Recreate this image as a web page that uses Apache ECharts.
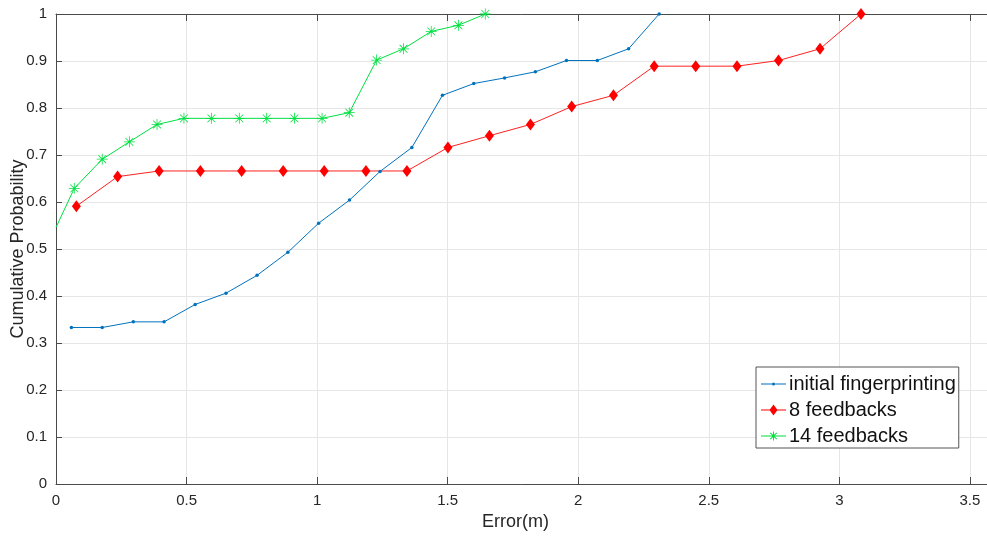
<!DOCTYPE html>
<html>
<head>
<meta charset="utf-8">
<script src="https://cdn.jsdelivr.net/npm/echarts@6/dist/echarts.min.js"></script>
<style>
  html, body { margin: 0; padding: 0; background: #fff; }
  #chart { width: 987px; height: 536px; }
</style>
</head>
<body>
<div id="chart"></div>
<script>
// Localisation error CDF: initial fingerprint map vs. maps refined by feedbacks
const initialX = [0.059, 0.177, 0.296, 0.414, 0.533, 0.651, 0.770, 0.888, 1.006, 1.124, 1.241, 1.363, 1.480, 1.600, 1.718, 1.836, 1.955, 2.073, 2.193, 2.310];
const initialY = [0.333, 0.333, 0.345, 0.345, 0.382, 0.406, 0.444, 0.493, 0.555, 0.604, 0.665, 0.716, 0.827, 0.852, 0.864, 0.877, 0.901, 0.901, 0.926, 1.000];

const fb8X = [0.078, 0.236, 0.395, 0.553, 0.711, 0.870, 1.027, 1.187, 1.344, 1.501, 1.660, 1.817, 1.975, 2.135, 2.291, 2.450, 2.608, 2.767, 2.926, 3.083];
const fb8Y = [0.591, 0.654, 0.666, 0.666, 0.666, 0.666, 0.666, 0.666, 0.666, 0.716, 0.741, 0.765, 0.803, 0.827, 0.889, 0.889, 0.889, 0.901, 0.926, 1.000];

const fb14X = [0.000, 0.070, 0.177, 0.281, 0.387, 0.490, 0.595, 0.702, 0.807, 0.913, 1.019, 1.123, 1.228, 1.331, 1.437, 1.541, 1.644];
const fb14Y = [0.546, 0.629, 0.691, 0.728, 0.765, 0.778, 0.778, 0.778, 0.778, 0.778, 0.778, 0.790, 0.902, 0.926, 0.963, 0.976, 1.000];

const seriesNames = ['initial fingerprinting', '8 feedbacks', '14 feedbacks'];
const yTicks = [0, 0.1, 0.2, 0.3, 0.4, 0.5, 0.6, 0.7, 0.8, 0.9, 1];
const xTicks = [0, 0.5, 1, 1.5, 2, 2.5, 3, 3.5];

const zip = (xs, ys) => xs.map((x, i) => [x, ys[i]]);

// eight-armed star marker built from thin filled bars (all sub-paths wound the same way)
const asterisk = 'path://M9.3 0H10.7V20H9.3Z M0 9.3H20V10.7H0Z ' +
  'M3.4 2.4L17.6 16.6L16.6 17.6L2.4 3.4Z M16.6 2.4L17.6 3.4L3.4 17.6L2.4 16.6Z';

// legend keys: a 25x12 box holding the line sample with its marker in the middle
const KEY_BOX = 'M0 0M25 12';
const KEY_LINE = 'M0 5.5H25V6.5H0Z';
const legendIcons = [
  'path://' + KEY_BOX + KEY_LINE + 'M14 6A1.5 1.5 0 1 1 11 6A1.5 1.5 0 1 1 14 6Z',
  'path://' + KEY_BOX + KEY_LINE + 'M8.5 6L12.5 0.5L16.5 6L12.5 11.5Z',
  'path://' + KEY_BOX + KEY_LINE + 'M12 1.5H13V10.5H12Z M8 5.5H17V6.5H8Z ' +
    'M9.65 2.45L16.05 8.85L15.35 9.55L8.95 3.15Z M15.35 2.45L16.05 3.15L9.65 9.55L8.95 8.85Z'
];

const FONT = 'Liberation Sans, Arial, sans-serif';
const INK = '#262626';
const AXIS = '#4a4a4a';
const GRIDLINE = '#e6e6e6';

const chart = echarts.init(document.getElementById('chart'), null, { renderer: 'canvas' });

const xCommon = {
  type: 'value', min: 0, max: 3.6, interval: 0.5,
  axisLine: { show: true, onZero: false, lineStyle: { color: AXIS, width: 1 } },
  axisTick: { show: true, inside: true, length: 7, lineStyle: { color: AXIS } },
};

chart.setOption({
  animation: false,
  backgroundColor: '#fff',
  textStyle: { fontFamily: FONT },
  grid: {
    left: 56, top: 14, width: 940, height: 470,
    containLabel: false, outerBoundsMode: 'none'
  },
  xAxis: [
    Object.assign({}, xCommon, {
      position: 'bottom',
      name: 'Error(m)', nameLocation: 'middle', nameGap: 28,
      nameTextStyle: { color: INK, fontSize: 18, fontFamily: FONT, padding: [0, 21, 0, 0] },
      axisLabel: {
        color: INK, fontSize: 15, fontFamily: FONT, margin: 9, showMaxLabel: false,
        formatter: v => (xTicks.some(t => Math.abs(t - v) < 1e-9) ? String(v) : '')
      },
      splitLine: { show: true, lineStyle: { color: GRIDLINE, width: 1 } }
    }),
    Object.assign({}, xCommon, {
      position: 'top',
      axisLabel: { show: false },
      splitLine: { show: false }
    })
  ],
  yAxis: {
    type: 'value', min: 0, max: 1, interval: 0.1,
    name: 'Cumulative Probability', nameLocation: 'middle', nameGap: 29,
    nameMoveOverlap: false,
    nameTextStyle: { color: INK, fontSize: 18, fontFamily: FONT },
    axisLine: { show: true, lineStyle: { color: AXIS, width: 1 } },
    axisTick: { show: true, inside: true, length: 6, lineStyle: { color: AXIS } },
    axisLabel: {
      color: INK, fontSize: 15, fontFamily: FONT, margin: 9,
      formatter: v => (yTicks.some(t => Math.abs(t - v) < 1e-9) ? String(+v.toFixed(1)) : '')
    },
    splitLine: { show: true, lineStyle: { color: GRIDLINE, width: 1 } }
  },
  legend: {
    data: seriesNames.map((name, i) => ({ name, icon: legendIcons[i] })),
    orient: 'vertical',
    left: 756, top: 367,
    padding: [7, 3, 2, 5],
    itemGap: 6,
    itemWidth: 25, itemHeight: 12,
    symbolKeepAspect: false,
    backgroundColor: '#fff',
    borderColor: '#555',
    borderWidth: 1,
    borderRadius: 0,
    textStyle: { color: '#111', fontSize: 20, lineHeight: 20, fontFamily: FONT, padding: [0, 0, 0, -2] }
  },
  series: [
    {
      name: seriesNames[0], type: 'line', xAxisIndex: 0,
      data: zip(initialX, initialY),
      symbol: 'circle', symbolSize: 3.5, showAllSymbol: true,
      lineStyle: { color: '#0072BD', width: 1 },
      itemStyle: { color: '#0072BD' },
      z: 3
    },
    {
      name: seriesNames[1], type: 'line', xAxisIndex: 0,
      data: zip(fb8X, fb8Y),
      symbol: 'diamond', symbolSize: [9, 12], showAllSymbol: true,
      lineStyle: { color: '#ff2020', width: 1 },
      itemStyle: { color: '#ff0000' },
      z: 2
    },
    {
      name: seriesNames[2], type: 'line', xAxisIndex: 0,
      // the curve enters from the axis edge; its first vertex carries no marker
      data: zip(fb14X, fb14Y).map((p, i) => (i === 0 ? { value: p, symbol: 'none' } : p)),
      symbol: asterisk, symbolSize: 11, showAllSymbol: true,
      lineStyle: { color: '#00e040', width: 1 },
      itemStyle: { color: '#00e040' },
      z: 2
    }
  ]
});
</script>
</body>
</html>
